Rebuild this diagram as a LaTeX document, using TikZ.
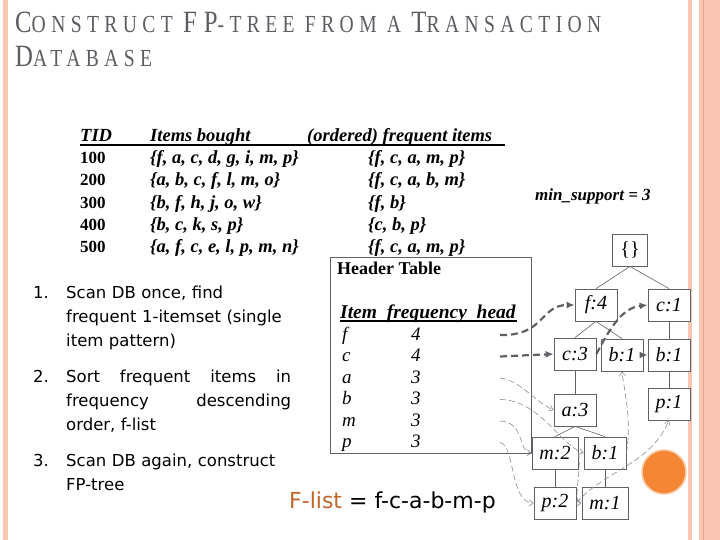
\documentclass[tikz,border=0pt]{standalone}
\usepackage{fontspec}
\newfontfamily\tmsfont{Liberation Serif}
\newfontfamily\ttlfont[LetterSpace=22,FakeStretch=0.8]{Liberation Serif}
\newfontfamily\tahfont{DejaVu Sans}
\usetikzlibrary{arrows.meta,positioning}
\definecolor{rim}{HTML}{F8C6B2}
\definecolor{rimdark}{HTML}{EFA288}
\definecolor{ttl}{HTML}{5A5D62}
\definecolor{lnk}{HTML}{5E6166}
\definecolor{thn}{HTML}{8A8C90}
\definecolor{dot}{HTML}{F58634}
\definecolor{flc}{HTML}{C1662B}
\tikzset{
  fpnode/.style={draw=lnk,line width=0.8pt,fill=white,minimum width=42pt,minimum height=32pt,inner sep=0pt,font=\tmsfont\itshape\fontsize{20}{20}\selectfont},
  branch/.style={lnk,line width=0.6pt},
  hlink/.style={lnk,line width=2.2pt,dash pattern=on 7pt off 4pt,-{Latex[length=8pt,width=7pt]}},
  nlink/.style={thn,line width=0.6pt,dash pattern=on 6pt off 3pt,-{Straight Barb[length=4pt,width=6pt]}},
  tbl/.style={anchor=base west,inner sep=0pt,font=\tmsfont\bfseries\itshape\fontsize{18.5}{18.5}\selectfont},
  lst/.style={anchor=base west,inner sep=0pt,font=\tahfont\fontsize{16.5}{24}\selectfont,align=left}
}
\newcommand{\tc}[2]{{\fontsize{31}{31}\selectfont #1}#2}

\begin{document}
\begin{tikzpicture}[x=1pt,y=-1pt]
  \useasboundingbox (0,0) rectangle (720,540);
  \fill[rim] (3,0) rectangle (8,540);
  \fill[rim] (688,0) rectangle (692,540);
  \fill[rim] (699,0) rectangle (720,540);
  \draw[rimdark,line width=1pt] (703,0) -- (703,540);
  \node[anchor=base west,inner sep=0pt,text=ttl,font=\ttlfont\fontsize{24.5}{24.5}\selectfont] (title1) at (15,33)
    {\tc{C}{ONSTRUCT} \tc{FP}{-TREE} FROM A \tc{T}{RANSACTION}};
  \node[anchor=base west,inner sep=0pt,text=ttl,font=\ttlfont\fontsize{24.5}{24.5}\selectfont] (title2) at (15,67)
    {\tc{D}{ATABASE}};

  \node[tbl] (tidh) at (80,142) {TID};
  \node[tbl] (boughth) at (150,142) {Items bought};
  \node[tbl] (ordh) at (307,142) {(ordered) frequent items};
  \draw[line width=1.8pt] (80,145) -- (505,145);
  \foreach \tid/\bought/\freq [count=\r] in {100/{f, a, c, d, g, i, m, p}/{f, c, a, m, p},
      200/{a, b, c, f, l, m, o}/{f, c, a, b, m}, 300/{b, f, h, j, o, w}/{f, b},
      400/{b, c, k, s, p}/{c, b, p}, 500/{a, f, c, e, l, p, m, n}/{f, c, a, m, p}}
    { \node[tbl,font=\tmsfont\bfseries\fontsize{17}{17}\selectfont] (tid\r) at (80,142+22*\r) {\tid};
      \node[tbl] (bgt\r) at (150,142+22*\r) {\{\bought\}};
      \node[tbl] (ord\r) at (368,142+22*\r) {\{\freq\}}; }
  \node[tbl,font=\tmsfont\bfseries\itshape\fontsize{17}{17}\selectfont] (minsup) at (535,201) {min\_support = 3};

  \node[lst] (n1) at (33,298) {1.};
  \node[lst,text width=225pt] (s1) at (66,298) {Scan DB once, find\\frequent 1-itemset (single\\item pattern)};
  \node[lst] (n2) at (33,382) {2.};
  \node[lst,text width=225pt] (s2) at (66,382) {Sort\hfill frequent\hfill items\hfill in\\frequency\hfill descending\\order, f-list};
  \node[lst] (n3) at (33,466) {3.};
  \node[lst,text width=225pt] (s3) at (66,466) {Scan DB again, construct\\FP-tree};
  \node[anchor=base west,inner sep=0pt,font=\tahfont\fontsize{22}{22}\selectfont] (flist) at (289,508)
    {\textcolor{flc}{F-list} = f-c-a-b-m-p};

  \draw[lnk,line width=0.8pt] (330,257) rectangle (531,453);
  \node[anchor=base west,inner sep=0pt,font=\tmsfont\bfseries\fontsize{18}{18}\selectfont] (htitle) at (337,274) {Header Table};
  \node[tbl,font=\tmsfont\bfseries\itshape\fontsize{19.5}{19.5}\selectfont] (hhead) at (340,318) {Item\ \ frequency\ \ head};
  \draw[line width=1.8pt] (340,321) -- (517,321);
  \foreach \itm/\fq/\y in {f/4/340, c/4/361.5, a/3/383, b/3/404.5, m/3/426, p/3/447.5}
    { \node[anchor=base west,inner sep=0pt,font=\tmsfont\itshape\fontsize{19}{19}\selectfont] (h-\itm) at (342,\y) {\itm};
      \node[anchor=base west,inner sep=0pt,font=\tmsfont\itshape\fontsize{19}{19}\selectfont] (q-\itm) at (411,\y) {\fq};
      \coordinate (hd-\itm) at (500,\y-5); }

  \node[fpnode,minimum width=35pt,font=\tmsfont\fontsize{20}{20}\selectfont] (root) at (630,250) {\{\}};
  \node[fpnode] (f4) at (596,305) {f:4};
  \node[fpnode] (c1) at (669,305) {c:1};
  \node[fpnode] (c3) at (575,354) {c:3};
  \node[fpnode] (b1a) at (622,355) {b:1};
  \node[fpnode] (b1b) at (669,355) {b:1};
  \node[fpnode] (a3) at (575,410) {a:3};
  \node[fpnode] (p1) at (669,404) {p:1};
  \node[fpnode,minimum width=46pt] (m2) at (555,453) {m:2};
  \node[fpnode] (b1c) at (605,453) {b:1};
  \node[fpnode] (p2) at (555,503) {p:2};
  \node[fpnode,minimum width=46pt] (m1) at (605,503) {m:1};
  \draw[branch] (root.south) -- (f4.north) (root.south) -- (c1.north);
  \draw[branch] (f4.south) -- (c3.north) (f4.south) -- (b1a.north);
  \draw[branch] (c1) -- (b1b) (b1b) -- (p1) (c3) -- (a3);
  \draw[branch] (a3.south) -- (m2.north) (a3.south) -- (b1c.north);
  \draw[branch] (m2) -- (p2) (b1c) -- (m1);

  \draw[hlink] (hd-f) .. controls (545,336) and (540,305) .. (f4.west);
  \draw[hlink] (hd-c) -- (c3.west);
  \draw[hlink] (c3.east) .. controls (610,328) and (622,308) .. (c1.west);
  \draw[hlink,solid] (b1a.east) -- (b1b.west);
  \draw[nlink] (hd-a) .. controls (520,380) and (535,402) .. (a3.west);
  \draw[nlink] (hd-b) .. controls (540,400) and (560,445) .. (b1c.west);
  \draw[nlink] (hd-m) .. controls (525,422) and (518,452) .. (m2.west);
  \draw[nlink] (hd-p) .. controls (515,445) and (510,503) .. (p2.west);
  \draw[nlink] (m2.east) .. controls (582,470) and (572,503) .. (m1.west);
  \draw[nlink] (b1c.east) .. controls (632,420) and (624,390) .. (b1a.south);
  \draw[nlink] (p2.east) .. controls (605,470) and (650,465) .. (p1.south);
  \fill[dot,draw=dot!45,line width=1.5pt] (664,472) circle (22);
\end{tikzpicture}
\end{document}
